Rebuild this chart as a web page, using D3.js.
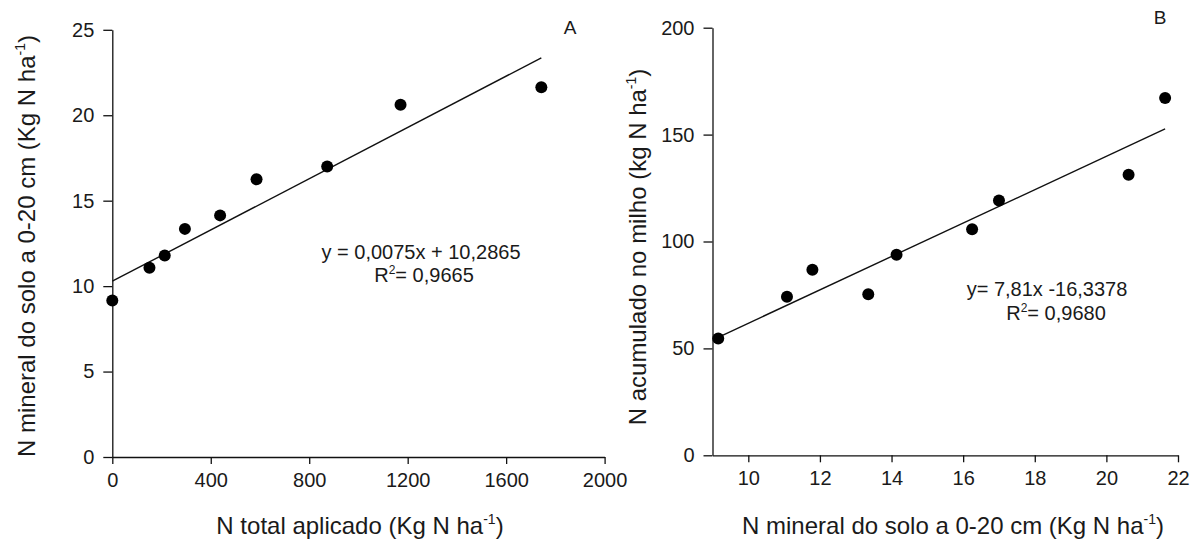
<!DOCTYPE html>
<html>
<head>
<meta charset="utf-8">
<script src="https://cdn.jsdelivr.net/npm/d3@7"></script>
<style>
  html, body { margin: 0; padding: 0; background: #fff; }
  svg text { font-family: Arial, "Liberation Sans", sans-serif; fill: #1a1a1a; }
</style>
</head>
<body>
<svg id="chart" width="1197" height="543"></svg>
<script>
// Total N applied (kg N/ha) and soil mineral N at 0-20 cm (kg N/ha)
const nApplied = [0, 151, 213, 295, 438, 586, 873, 1171, 1743];
const soilMineralN = [9.16, 11.08, 11.79, 13.35, 14.14, 16.25, 17.0, 20.62, 21.64];
// N accumulated in maize (kg N/ha)
const nMaize = [54.6, 74.2, 86.8, 75.3, 93.8, 105.7, 119.2, 131.2, 167.1];

// Fitted linear models [slope, intercept]
const fitA = [0.0075, 10.2865];
const fitB = [7.81, -16.3378];

const ticksAx = [0, 400, 800, 1200, 1600, 2000];
const ticksAy = [0, 5, 10, 15, 20, 25];
const ticksBx = [10, 12, 14, 16, 18, 20, 22];
const ticksBy = [0, 50, 100, 150, 200];

const svg = d3.select("#chart");

function panel(cfg) {
  const g = svg.append("g");
  const x = d3.scaleLinear().domain(cfg.xDomain).range(cfg.xRange);
  const y = d3.scaleLinear().domain(cfg.yDomain).range(cfg.yRange);
  const fmt = d3.format("d");

  const xAxis = g.append("g")
    .attr("transform", `translate(0,${cfg.yRange[0]})`)
    .call(d3.axisBottom(x).tickValues(cfg.xTicks).tickFormat(fmt)
      .tickSize(7).tickSizeOuter(0).tickPadding(9));
  const yAxis = g.append("g")
    .attr("transform", `translate(${cfg.xRange[0]},0)`)
    .call(d3.axisLeft(y).tickValues(cfg.yTicks).tickFormat(fmt)
      .tickSize(9).tickSizeOuter(0).tickPadding(9));
  [xAxis, yAxis].forEach(a => {
    a.selectAll("path, line").attr("stroke", "#111").attr("stroke-width", 1.3);
    a.selectAll("text").style("font-size", "20px").attr("fill", "#1a1a1a");
  });

  // regression line over the observed x range
  const [m, b] = cfg.fit;
  const xs = d3.extent(cfg.xs);
  g.append("line")
    .attr("x1", x(xs[0])).attr("y1", y(m * xs[0] + b))
    .attr("x2", x(xs[1])).attr("y2", y(m * xs[1] + b))
    .attr("stroke", "#111").attr("stroke-width", 1.4);

  g.selectAll("circle.pt").data(cfg.xs.map((v, i) => [v, cfg.ys[i]]))
    .join("circle").attr("class", "pt")
    .attr("cx", d => x(d[0])).attr("cy", d => y(d[1]))
    .attr("r", 6).attr("fill", "#000");

  // axis titles with superscript exponent
  const xt = g.append("text")
    .attr("x", cfg.xTitlePos[0]).attr("y", cfg.xTitlePos[1])
    .attr("text-anchor", "middle").style("font-size", "24px");
  xt.append("tspan").text(cfg.xTitle);
  xt.append("tspan").attr("dy", -10).style("font-size", "14px").text("-1");
  xt.append("tspan").attr("dy", 10).text(")");

  const yt = g.append("text")
    .attr("transform", `translate(${cfg.yTitlePos[0]},${cfg.yTitlePos[1]}) rotate(-90)`)
    .attr("text-anchor", "middle").style("font-size", "24px");
  yt.append("tspan").text(cfg.yTitle);
  yt.append("tspan").attr("dy", -10).style("font-size", "14px").text("-1");
  yt.append("tspan").attr("dy", 10).text(")");

  // equation and coefficient of determination
  g.append("text").attr("x", cfg.eqPos[0]).attr("y", cfg.eqPos[1])
    .attr("text-anchor", "middle").style("font-size", "20px").text(cfg.eq);
  const r2 = g.append("text").attr("x", cfg.r2Pos[0]).attr("y", cfg.r2Pos[1])
    .attr("text-anchor", "middle").style("font-size", "20px");
  r2.append("tspan").text("R");
  r2.append("tspan").attr("dy", -8).style("font-size", "12px").text("2");
  r2.append("tspan").attr("dy", 8).text("= " + cfg.r2);

  g.append("text").attr("x", cfg.letterPos[0]).attr("y", cfg.letterPos[1])
    .attr("text-anchor", "middle").style("font-size", "19px").text(cfg.letter);
}

panel({
  xDomain: [0, 2000], xRange: [112.3, 604.6],
  yDomain: [0, 25], yRange: [457, 29.8],
  xTicks: ticksAx, yTicks: ticksAy,
  xs: nApplied, ys: soilMineralN, fit: fitA,
  xTitle: "N total aplicado (Kg N ha", xTitlePos: [360, 534],
  yTitle: "N mineral do solo a 0-20 cm (Kg N ha", yTitlePos: [35, 246],
  eq: "y = 0,0075x + 10,2865", eqPos: [421, 259],
  r2: "0,9665", r2Pos: [424, 282],
  letter: "A", letterPos: [570, 34]
});

panel({
  xDomain: [9, 22], xRange: [712.5, 1178],
  yDomain: [0, 200], yRange: [455.3, 27.7],
  xTicks: ticksBx, yTicks: ticksBy,
  xs: soilMineralN, ys: nMaize, fit: fitB,
  xTitle: "N mineral do solo a 0-20 cm (Kg N ha", xTitlePos: [953, 534],
  yTitle: "N acumulado no milho (kg N ha", yTitlePos: [646, 247],
  eq: "y= 7,81x -16,3378", eqPos: [1047, 296],
  r2: "0,9680", r2Pos: [1056, 320],
  letter: "B", letterPos: [1160, 24]
});
</script>
</body>
</html>
